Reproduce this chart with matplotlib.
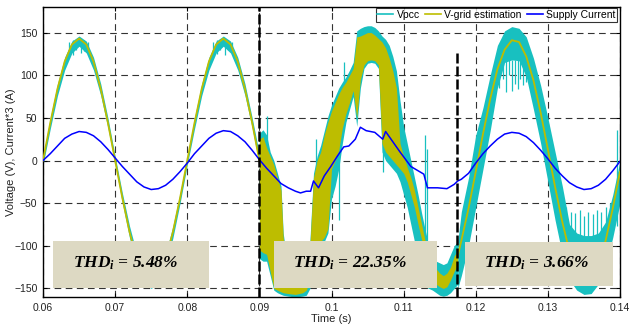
import matplotlib
matplotlib.use('Agg')
import matplotlib.pyplot as plt
from matplotlib.lines import Line2D
from matplotlib.patches import Rectangle

plt.rcParams['font.family'] = ['Liberation Sans', 'DejaVu Sans']
plt.rcParams['mathtext.fontset'] = 'custom'
plt.rcParams['mathtext.it'] = 'Liberation Serif:bold:italic'
plt.rcParams['mathtext.rm'] = 'Liberation Serif:bold:italic'

# ---- section 1 (steady state, 0.06 - 0.09 s) ----
t1 = [0.060, 0.061, 0.062, 0.063, 0.064, 0.065, 0.066, 0.067, 0.068, 0.069, 0.070,
      0.071, 0.072, 0.073, 0.074, 0.075, 0.076, 0.077, 0.078, 0.079, 0.080,
      0.081, 0.082, 0.083, 0.084, 0.085, 0.086, 0.087, 0.088, 0.089, 0.090]
vest1 = [0, 44, 84, 116, 136, 143, 136, 116, 84, 44, 0,
         -44, -84, -116, -136, -143, -136, -116, -84, -44, 0,
         44, 84, 116, 136, 143, 136, 116, 84, 44, 0]
vpcc1_hi = [5, 50, 90, 121, 140, 146, 140, 121, 90, 50, 5,
            -38, -77, -109, -129, -135, -129, -109, -77, -38, 5,
            50, 90, 121, 140, 146, 140, 121, 90, 50, 8]
vpcc1_lo = [-5, 37, 76, 106, 126, 134, 126, 106, 76, 38, -5,
            -50, -91, -123, -143, -150, -143, -123, -91, -50, -5,
            37, 76, 106, 126, 134, 126, 106, 76, 38, -5]

# ---- section 2 (distorted, 0.09 - 0.1175 s): envelopes of the switching band ----
t2 = [0.0900, 0.0905, 0.0910, 0.0915, 0.0920, 0.0925, 0.0930, 0.0933, 0.0940, 0.0950,
      0.0960, 0.0965, 0.0970, 0.0975, 0.0980, 0.0985, 0.0990, 0.0995, 0.1000, 0.1005,
      0.1010, 0.1015, 0.1020, 0.1025, 0.1030, 0.1035, 0.1040, 0.1045, 0.1050, 0.1055,
      0.1060, 0.1065, 0.1070, 0.1075, 0.1080, 0.1085, 0.1090, 0.1095, 0.1100, 0.1105,
      0.1110, 0.1115, 0.1120, 0.1125, 0.1130, 0.1135, 0.1140, 0.1145, 0.1150, 0.1155,
      0.1160, 0.1165, 0.1170, 0.1175]
vest2_lo = [-105, -108, -110, -130, -150, -152, -154, -155, -156, -157,
            -155, -152, -140, -110, -100, -95, -90, -80, -10, 0,
            12, 38, 55, 68, 82, 50, 95, 112, 117, 118,
            117, 112, 20, 10, 5, 0, -5, -10, -15, -25,
            -40, -55, -75, -93, -115, -130, -140, -145, -148, -150,
            -148, -140, -130, -122]
vest2_hi = [25, 28, 15, 5, -5, -20, -35, -90, -135, -138,
            -135, -120, -100, -20, 0, 10, 30, 45, 58, 68,
            78, 86, 92, 100, 108, 145, 146, 148, 150, 150,
            147, 143, 139, 132, 120, 105, 85, 20, 5, -8,
            -20, -35, -55, -75, -95, -112, -120, -127, -132, -135,
            -132, -125, -112, -105]
vpcc2_lo = [-115, -118, -118, -135, -152, -155, -157, -158, -159, -160,
            -159, -158, -150, -120, -108, -100, -95, -85, -45, -30,
            -10, 20, 45, 60, 75, 40, 85, 108, 114, 115,
            114, 108, 10, 0, -5, -10, -15, -25, -40, -55,
            -75, -95, -115, -130, -148, -150, -152, -155, -158, -159,
            -158, -155, -150, -145]
vpcc2_hi = [32, 36, 30, 10, 0, -15, -30, -85, -128, -130,
            -128, -115, -95, -15, 5, 18, 35, 52, 65, 75,
            85, 92, 98, 106, 115, 152, 155, 157, 158, 158,
            156, 152, 146, 142, 135, 122, 105, 70, 40, 20,
            0, -20, -40, -62, -82, -100, -110, -118, -120, -122,
            -120, -110, -100, -95]

# ---- section 3 (compensated, 0.1175 - 0.14 s) ----
t3 = [0.1175, 0.118, 0.119, 0.120, 0.121, 0.122, 0.123, 0.124, 0.125, 0.126, 0.127,
      0.128, 0.129, 0.130, 0.131, 0.132, 0.133, 0.134, 0.135, 0.136, 0.137,
      0.138, 0.139, 0.140]
vest3 = [-112, -94, -56, -13, 31, 72, 107, 130, 141, 139, 122,
         94, 56, 13, -31, -72, -107, -130, -141, -139, -122,
         -94, -56, -13]
vpcc3_hi = [-95, -60, -20, 30, 62, 100, 135, 152, 157, 155, 145,
            120, 88, 50, 10, -30, -75, -85, -88, -88, -85,
            -72, -40, 0]
vpcc3_lo = [-150, -135, -100, -55, -10, 35, 85, 115, 118, 117, 98,
            60, 20, -25, -70, -110, -140, -152, -157, -156, -145,
            -125, -90, -50]

# ---- Vpcc switching spikes (time, low, high) ----
spk_t = [0.0636, 0.0641, 0.0646, 0.0652, 0.0657, 0.0662,
         0.0836, 0.0841, 0.0846, 0.0852, 0.0857, 0.0862,
         0.0911, 0.0978, 0.1010, 0.1017, 0.1072, 0.1129, 0.1133,
         0.1232, 0.1238, 0.1242, 0.1246, 0.1250, 0.1254, 0.1258, 0.1262, 0.1266, 0.1270,
         0.1318, 0.1325, 0.1332, 0.1338, 0.1344, 0.1350, 0.1356, 0.1362, 0.1368,
         0.1374, 0.1380, 0.1386, 0.1396]
spk_lo = [128, 124, 130, 126, 128, 131,
          127, 125, 130, 124, 129, 131,
          0, -20, -70, 72, -14, -93, -93,
          85, 95, 80, 100, 82, 90, 84, 95, 88, 92,
          -95, -95, -95, -95, -95, -95, -95, -95, -95,
          -95, -95, -95, -77]
spk_hi = [139, 141, 142, 142, 141, 139,
          139, 141, 142, 142, 141, 139,
          52, 25, 16, 116, 20, 30, 13,
          118, 118, 118, 118, 118, 118, 118, 118, 118, 118,
          -45, -55, -60, -62, -58, -65, -60, -63, -58,
          -60, -55, -50, 36]

# ---- supply current (x3) ----
ti = [0.060, 0.061, 0.062, 0.063, 0.064, 0.065, 0.066, 0.067, 0.068, 0.069, 0.070,
      0.071, 0.072, 0.073, 0.074, 0.075, 0.076, 0.077, 0.078, 0.079, 0.080,
      0.081, 0.082, 0.083, 0.084, 0.085, 0.086, 0.087, 0.088, 0.089, 0.090,
      0.091, 0.092, 0.093, 0.094, 0.095, 0.0957, 0.0965, 0.0971, 0.0975, 0.0982,
      0.099, 0.0999, 0.1008, 0.1017, 0.1024, 0.1033, 0.1040, 0.1048, 0.1060, 0.1071,
      0.1075, 0.1085, 0.1095, 0.1110, 0.1122, 0.1128, 0.1133, 0.1147, 0.1160, 0.1170,
      0.1175, 0.118, 0.119, 0.120, 0.121, 0.122, 0.123, 0.124, 0.125, 0.126,
      0.127, 0.128, 0.129, 0.130, 0.131, 0.132, 0.133, 0.134, 0.135, 0.136,
      0.137, 0.138, 0.139, 0.140]
isup = [0, 8, 17, 26, 31, 34, 33, 29, 22, 13, 3,
        -7, -16, -25, -31, -34, -33, -29, -22, -13, -3,
        8, 17, 26, 32, 35, 34, 29, 22, 12, 1,
        -9, -18, -27, -32, -36, -38, -36, -36, -24, -32,
        -18, -7, 5, 16, 17, 25, 39, 35, 33, 25,
        34, 22, 10, -7, -13, -16, -32, -32, -33, -28,
        -24, -22, -15, -3, 8, 17, 25, 31, 33, 32,
        28, 21, 12, 2, -9, -18, -26, -31, -34, -33,
        -29, -22, -12, -1]

section_edges = [0.09, 0.1174]
thd_labels = ['THD$_i$ = 5.48%', 'THD$_i$ = 22.35%', 'THD$_i$ = 3.66%']

xticks = [0.06, 0.07, 0.08, 0.09, 0.10, 0.11, 0.12, 0.13, 0.14]
xticklabels = ['0.06', '0.07', '0.08', '0.09', '0.1', '0.11', '0.12', '0.13', '0.14']
yticks = [-150, -100, -50, 0, 50, 100, 150]

c_vpcc = '#18C0C0'
c_est = '#BDBD00'
c_cur = '#0000FF'

fig = plt.figure(figsize=(6.29, 3.25), dpi=100)
ax = fig.add_axes([0.0684, 0.0862, 0.9173, 0.8923])

# Vpcc bands
ax.fill_between(t1, vpcc1_lo, vpcc1_hi, color=c_vpcc, lw=0, zorder=2)
ax.fill_between(t2, vpcc2_lo, vpcc2_hi, color=c_vpcc, lw=0, zorder=2)
ax.fill_between(t3, vpcc3_lo, vpcc3_hi, color=c_vpcc, lw=0, zorder=2)
ax.vlines(spk_t, spk_lo, spk_hi, color=c_vpcc, lw=0.9, zorder=2)

# V-grid estimation
ax.plot(t1, vest1, color=c_est, lw=1.3, zorder=3)
ax.fill_between(t2, vest2_lo, vest2_hi, color=c_est, lw=0, zorder=3)
ax.plot(t3, vest3, color=c_est, lw=1.3, zorder=3)

# supply current
ax.plot(ti, isup, color=c_cur, lw=1.1, zorder=4)

# section separators
ax.axvline(section_edges[0], ymin=0, ymax=1, color='black', lw=1.8, dashes=(4, 1.2), zorder=6)
ax.axvline(section_edges[1], ymin=0, ymax=0.846, color='black', lw=1.8, dashes=(4, 1.2), zorder=6)

ax.set_xlim(0.06, 0.14)
ax.set_ylim(-160, 180)
ax.set_xticks(xticks)
ax.set_xticklabels(xticklabels)
ax.set_yticks(yticks)
ax.tick_params(direction='in', top=True, right=True, labelsize=7.5, length=3,
               labelcolor='#222222', pad=4)
ax.grid(True, color='#333333', linestyle=(0, (6, 4)), lw=0.8)
ax.set_axisbelow(True)
for s in ax.spines.values():
    s.set_linewidth(1.0)

ax.set_xlabel('Time (s)', fontsize=8, color='#222222', labelpad=1)
ax.set_ylabel('Voltage (V), Current*3 (A)', fontsize=8, color='#222222')
ax.yaxis.set_label_coords(-0.047, 0.5)

# THD boxes
boxes = [(0.06139, -148.9, 0.02167, 55.1, 0.06417),
         (0.09208, -148.9, 0.02250, 55.1, 0.09472),
         (0.11847, -147.7, 0.02056, 52.7, 0.12111)]
for (x0, y0, w, h, tx), lab in zip(boxes, thd_labels):
    ax.add_patch(Rectangle((x0, y0), w, h, facecolor='#DDD9C3', edgecolor='none', zorder=5))
    ax.text(tx, -120, lab, fontsize=12.5, family='Liberation Serif', style='italic',
            weight='bold', va='center', ha='left', zorder=6)

handles = [Line2D([], [], color=c_vpcc, lw=1.2),
           Line2D([], [], color=c_est, lw=1.2),
           Line2D([], [], color=c_cur, lw=1.2)]
leg = ax.legend(handles, ['Vpcc', 'V-grid estimation', 'Supply Current'], ncol=3,
                loc='upper right', bbox_to_anchor=(0.995, 0.995), fontsize=7.5,
                frameon=True, fancybox=False, edgecolor='black', borderpad=0.15,
                handlelength=1.5, handletextpad=0.35, columnspacing=0.5, borderaxespad=0)
leg.get_frame().set_linewidth(0.8)
leg.set_zorder(10)

fig.savefig('out.png', dpi=100)
